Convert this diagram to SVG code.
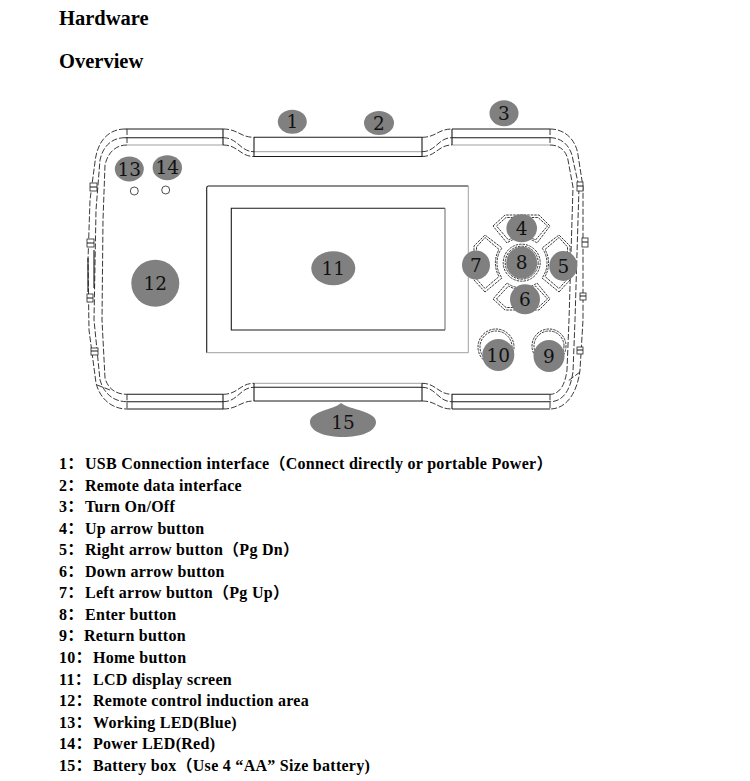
<svg xmlns="http://www.w3.org/2000/svg" width="750" height="781" viewBox="0 0 750 781">
<style>
.s{stroke:#1a1a1a;stroke-width:1.1;fill:none}
.l{stroke:#a0a0a0;stroke-width:1;fill:none}
.d{stroke:#222;stroke-width:0.9;fill:none;stroke-dasharray:6 2}
.b{stroke:#222;stroke-width:0.9;fill:none;stroke-dasharray:2.5 1}
.tab{stroke:#222;stroke-width:0.8;fill:#fff}
.lab{fill:#808080}
.num{font-family:"DejaVu Serif","Liberation Serif",serif;font-size:18.5px;fill:#111;text-anchor:middle}
.h{font-family:"Liberation Serif",serif;font-weight:bold;font-size:20.5px;fill:#000}
.t{font-family:"Liberation Serif","Noto Sans CJK SC",serif;font-weight:bold;font-size:16px;fill:#000;letter-spacing:0.28px}
</style>
<rect width="750" height="781" fill="#fff"/>
<text class="h" x="59" y="25">Hardware</text>
<text class="h" x="59" y="68">Overview</text>

<g id="device-body">
  <!-- top bands -->
  <path class="s" d="M125,129H223M125,137.7H223M452,129H550M452,137.7H550M254,137.3H422M254,156.5H422"/>
  <path class="l" d="M127,145H223M452,145H550M254,151.7H422"/>
  <path class="s" d="M223,129V145M254,137.3V156.5M422,137.3V156.5M452,129V145"/>
  <path class="d" d="M223,129C238,129 240,137.3 254,137.3M223,137.7C238,137.7 240,151.7 254,151.7M223,145C238,145 240,156.5 254,156.5"/>
  <path class="d" d="M422,137.3C436,137.3 438,129 452,129M422,151.7C436,151.7 438,137.7 452,137.7M422,156.5C436,156.5 438,145 452,145"/>
  <!-- bottom bands -->
  <path class="s" d="M127,409H223M127,401.7H223M127,394.3H223M452,409H550M452,401.7H550M452,394.3H550M254,401H422M254,387.3H422"/>
  <path class="l" d="M254,383.3H422"/>
  <path class="s" d="M223,394.3V409M254,383.3V401M422,383.3V401M452,394.3V409"/>
  <path class="d" d="M223,409C238,409 240,401 254,401M223,401.7C238,401.7 240,387.3 254,387.3M223,394.3C238,394.3 240,383.3 254,383.3"/>
  <path class="d" d="M422,401C436,401 438,409 452,409M422,387.3C436,387.3 438,401.7 452,401.7M422,383.3C436,383.3 438,394.3 452,394.3"/>
  <!-- corners and sides -->
  <path class="d" d="M125,129C108,129 97,142 95,162L90,200L88,260L89,330L96,383C100,399 112,409 127,409"/>
  <path class="d" d="M125,137.7C112,137.7 103,146 100,160L96,210L94,320L100,380C104,394 114,401.7 127,401.7"/>
  <path class="d" d="M127,145C116,145 108,152 105,165L103,220L102,320L105,378C108,389 116,394.3 127,394.3"/>
  <path class="d" d="M550,129C565,129 576,140 578,155L583,187L583,320L580,370C577,395 565,409 550,409"/>
  <path class="d" d="M550,137.7C562,137.7 571,146 573,160L579,187L575,320L573,372C570,392 562,401.7 550,401.7"/>
  <path class="d" d="M550,145C559,145 566,150 568,160L573,187L569,320L567,370C565,386 559,394.3 550,394.3"/>
  <path class="d" d="M127,129V145M550,129V145M127,394.3V409M550,394.3V409M97,385L110,390M580,372L568,381"/>
  <path class="s" d="M88,258V292M94,250V288"/>
  <!-- tabs -->
  <rect class="tab" x="90" y="183" width="7" height="8"/>
  <rect class="tab" x="87" y="239" width="7" height="8"/>
  <rect class="tab" x="87" y="294" width="6" height="8"/>
  <rect class="tab" x="91" y="348" width="7" height="7"/>
  <rect class="tab" x="577" y="182" width="6" height="9"/>
  <rect class="tab" x="582" y="238" width="6" height="9"/>
  <rect class="tab" x="580" y="293" width="6" height="7"/>
  <rect class="tab" x="577" y="347" width="6" height="7"/>
  <path class="s" d="M90,187H97M87,243H94M87,298H93M91,351H98M577,186H583M582,242H588M580,296H586M577,350H583"/>
  <!-- LEDs -->
  <circle cx="134.3" cy="191" r="4" fill="#fff" stroke="#222" stroke-width="0.8"/>
  <circle cx="165.7" cy="190" r="4" fill="#fff" stroke="#222" stroke-width="0.8"/>
</g>

<g id="screen">
  <path d="M206.7,352.7V188Q206.7,186 208.7,186H468.3" class="s"/>
  <path d="M468.3,186V352.7H206.7" class="l"/>
  <path d="M445,208.3H231.3V330H445" class="s"/>
  <path d="M445,208.3V330" stroke="#666" stroke-width="1" fill="none"/>
</g>

<g id="buttons">
  <path class="b" d="M493,226L505,215L539,215L550,226L537,243A25,25 0 0 0 507,243Z"/>
  <path class="b" d="M496.5,226L506,217.5L538,217.5L547.5,226L535.5,240A27,27 0 0 0 508.5,240Z"/>
  <path class="b" d="M493,299L505,310L539,310L550,299L537,283A25,25 0 0 1 507,283Z"/>
  <path class="b" d="M496.5,299L506,307.5L538,307.5L547.5,299L535.5,286A27,27 0 0 1 508.5,286Z"/>
  <path class="b" d="M485,292L474,280L474,246L485,235L502,248A25,25 0 0 0 502,278Z"/>
  <path class="b" d="M485,288.5L476.5,279L476.5,247L485,237.5L499,249.5A27,27 0 0 0 499,276.5Z"/>
  <path class="b" d="M559,292L570,280L570,246L559,235L542,248A25,25 0 0 1 542,278Z"/>
  <path class="b" d="M559,288.5L567.5,279L567.5,247L559,237.5L545,249.5A27,27 0 0 1 545,276.5Z"/>
  <circle class="b" cx="521.7" cy="262.7" r="18.5"/>
  <circle class="b" cx="521.7" cy="262.7" r="16.5"/>
  <circle class="b" cx="496" cy="347" r="18"/>
  <circle class="b" cx="496" cy="347" r="16"/>
  <circle class="b" cx="549" cy="346" r="17"/>
  <circle class="b" cx="549" cy="346" r="15"/>
</g>

<g id="label-1"><ellipse class="lab" cx="292.3" cy="121.7" rx="14.5" ry="12"/><text class="num" x="292.3" y="128.4">1</text></g>
<g id="label-2"><ellipse class="lab" cx="379" cy="123" rx="15" ry="12"/><text class="num" x="379" y="129.7">2</text></g>
<g id="label-3"><ellipse class="lab" cx="504" cy="113.3" rx="14.5" ry="13"/><text class="num" x="504" y="120">3</text></g>
<g id="label-4"><ellipse class="lab" cx="521.7" cy="228.3" rx="15.3" ry="14"/><text class="num" x="521.7" y="235">4</text></g>
<g id="label-5"><ellipse class="lab" cx="563.3" cy="266" rx="14" ry="15"/><text class="num" x="563.3" y="272.7">5</text></g>
<g id="label-6"><ellipse class="lab" cx="525" cy="299.3" rx="15" ry="15"/><text class="num" x="525" y="306">6</text></g>
<g id="label-7"><ellipse class="lab" cx="476" cy="265" rx="14" ry="14.5"/><text class="num" x="476" y="271.7">7</text></g>
<g id="label-8"><ellipse class="lab" cx="521.7" cy="262.7" rx="15.5" ry="16"/><text class="num" x="521.7" y="269.4">8</text></g>
<g id="label-9"><ellipse class="lab" cx="549" cy="356" rx="15.5" ry="16"/><text class="num" x="549" y="362.7">9</text></g>
<g id="label-10"><ellipse class="lab" cx="498.3" cy="355" rx="16" ry="16"/><text class="num" x="498.3" y="361.7">10</text></g>
<g id="label-11"><ellipse class="lab" cx="333.3" cy="268.3" rx="22" ry="17"/><text class="num" x="333.3" y="275">11</text></g>
<g id="label-12"><ellipse class="lab" cx="155.3" cy="283.3" rx="24" ry="23.5"/><text class="num" x="155.3" y="290">12</text></g>
<g id="label-13"><ellipse class="lab" cx="129.3" cy="169" rx="14.5" ry="12.5"/><text class="num" x="129.3" y="175.7">13</text></g>
<g id="label-14"><ellipse class="lab" cx="167.3" cy="167.7" rx="14.7" ry="12.5"/><text class="num" x="167.3" y="174.4">14</text></g>
<g id="label-15"><path class="lab" d="M341,403C350,410 376,411 376,422C376,432 360,437 343,437C326,437 310,432 310,422C310,411 333,410 341,403Z"/><text class="num" x="343" y="429">15</text></g>

<g id="legend">
  <text class="t" y="469"><tspan x="59">1：</tspan><tspan x="85">USB Connection interface（Connect directly or portable Power）</tspan></text>
  <text class="t" y="490.5"><tspan x="59">2：</tspan><tspan x="85">Remote data interface</tspan></text>
  <text class="t" y="512"><tspan x="59">3：</tspan><tspan x="85">Turn On/Off</tspan></text>
  <text class="t" y="533.6"><tspan x="59">4：</tspan><tspan x="85">Up arrow button</tspan></text>
  <text class="t" y="555.2"><tspan x="59">5：</tspan><tspan x="85">Right arrow button（Pg Dn）</tspan></text>
  <text class="t" y="576.7"><tspan x="59">6：</tspan><tspan x="85">Down arrow button</tspan></text>
  <text class="t" y="598.3"><tspan x="59">7：</tspan><tspan x="85">Left arrow button（Pg Up）</tspan></text>
  <text class="t" y="619.8"><tspan x="59">8：</tspan><tspan x="85">Enter button</tspan></text>
  <text class="t" y="641.4"><tspan x="59">9：</tspan><tspan x="84">Return button</tspan></text>
  <text class="t" y="663"><tspan x="59">10：</tspan><tspan x="93">Home button</tspan></text>
  <text class="t" y="684.5"><tspan x="59">11：</tspan><tspan x="93">LCD display screen</tspan></text>
  <text class="t" y="706"><tspan x="59">12：</tspan><tspan x="93">Remote control induction area</tspan></text>
  <text class="t" y="727.6"><tspan x="59">13：</tspan><tspan x="93">Working LED(Blue)</tspan></text>
  <text class="t" y="749.2"><tspan x="59">14：</tspan><tspan x="93">Power LED(Red)</tspan></text>
  <text class="t" y="770.7"><tspan x="59">15：</tspan><tspan x="93">Battery box（Use 4 “AA” Size battery)</tspan></text>
</g>
</svg>
